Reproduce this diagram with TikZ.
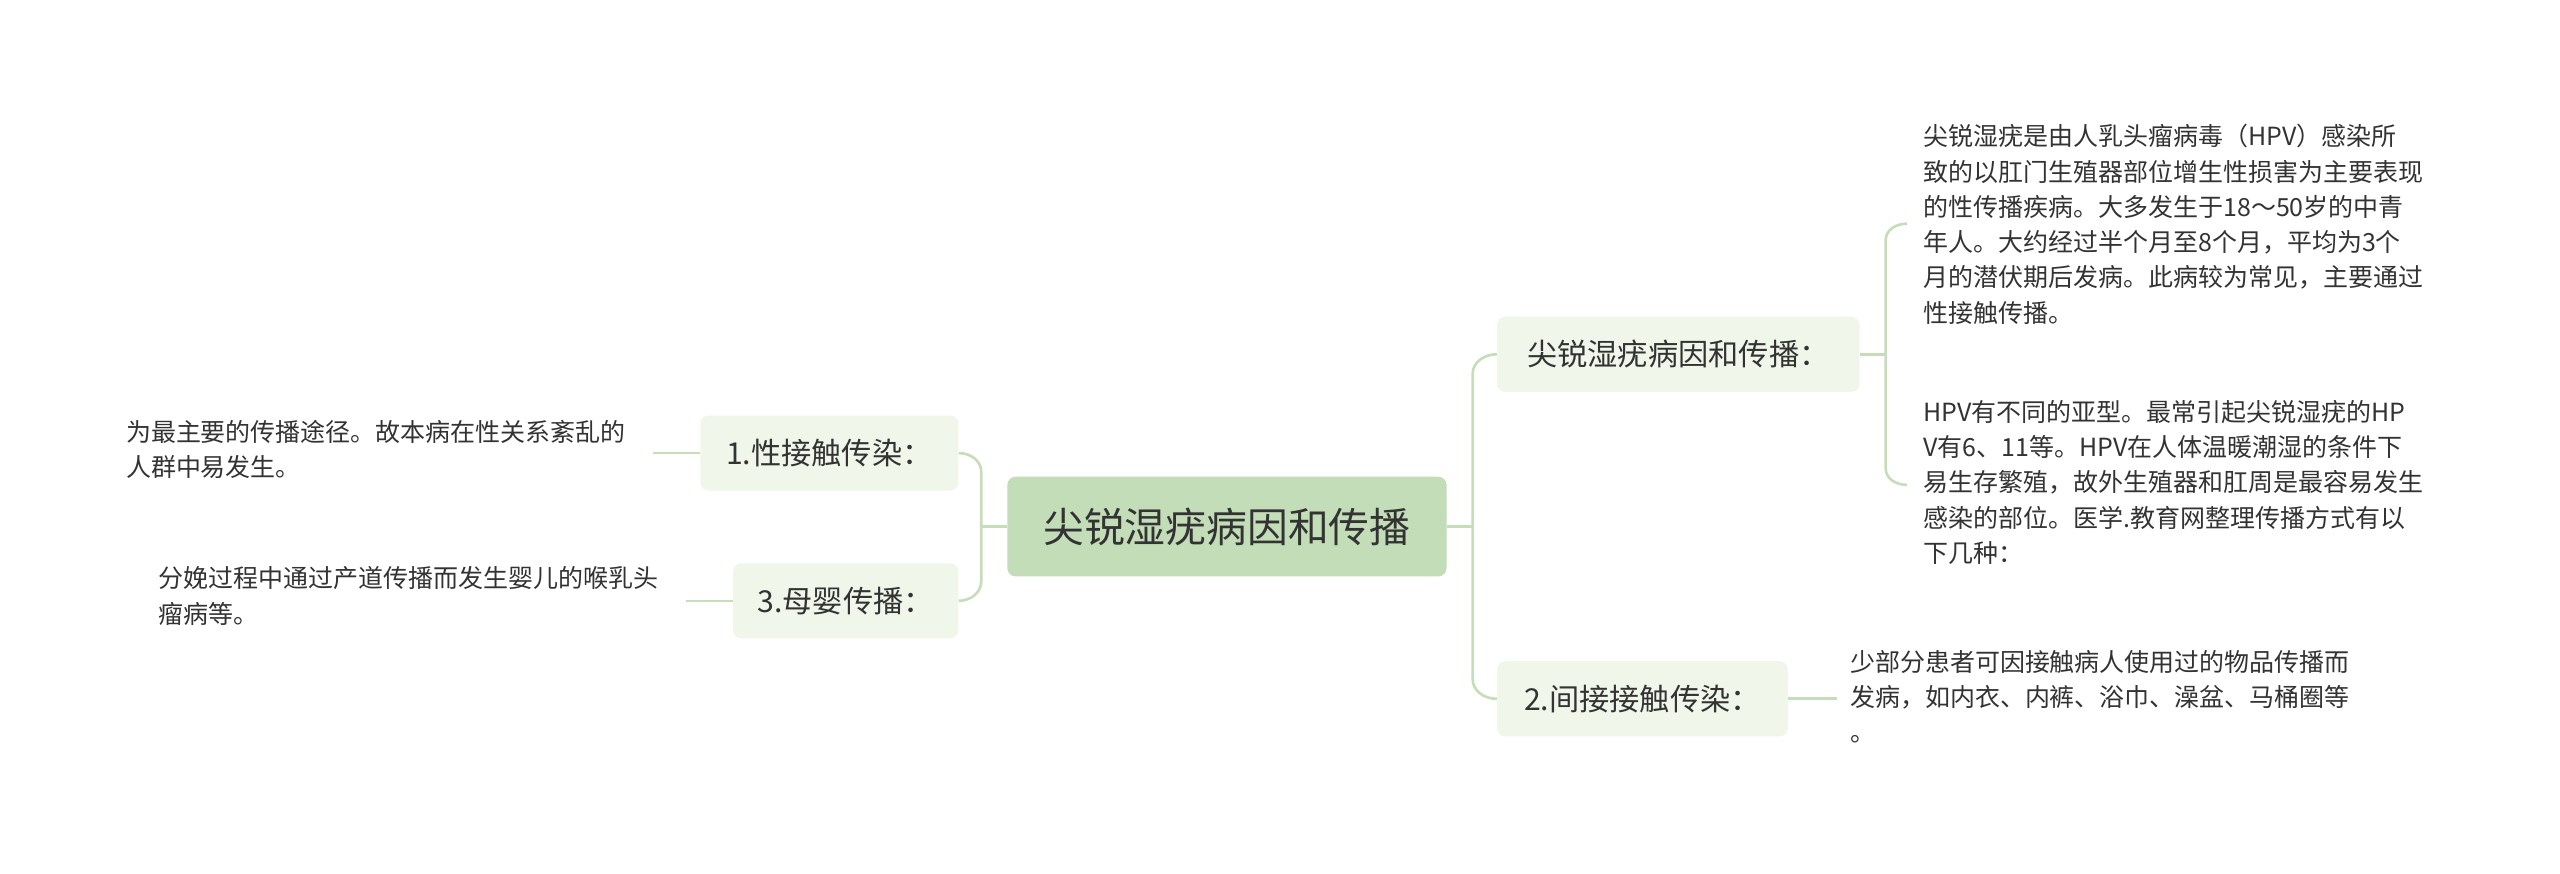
\documentclass[tikz,border=0pt]{standalone}
\usepackage{fontspec}
\setmainfont{Noto Sans CJK SC}
\usetikzlibrary{positioning}
\definecolor{rootfill}{HTML}{C3DDB8}
\definecolor{subfill}{HTML}{F0F6EA}
\definecolor{linkcol}{HTML}{C5DDB9}
\definecolor{txtcol}{HTML}{333333}
\tikzset{
  rootbox/.style={fill=rootfill, rounded corners=5pt, minimum width=269pt, minimum height=61pt, font=\fontsize{25}{29}\selectfont, text=txtcol},
  subbox/.style={fill=subfill, rounded corners=5pt, minimum height=46pt, inner xsep=8pt, font=\fontsize{18.5}{22}\selectfont, text=txtcol},
  leaf/.style={align=left, inner sep=0pt, font=\fontsize{15.3}{21.6}\selectfont, text=txtcol},
  link/.style={draw=linkcol, line width=1.6pt}
}
\begin{document}
\begin{tikzpicture}[x=1pt, y=1pt]
  \useasboundingbox[fill=white] (0,0) rectangle (1568,-535);
  % central topic
  \node[rootbox] (root) at (751.5,-322.5) {尖锐湿疣病因和传播};
  % branches
  \node[subbox, minimum width=222pt] (cause) at (1028,-217) {尖锐湿疣病因和传播：};
  \node[subbox, minimum width=178pt] (indirect) at (1006,-428) {2.间接接触传染：};
  \node[subbox, minimum width=158pt] (sexual) at (508,-277.5) {1.性接触传染：};
  \node[subbox, minimum width=138pt] (mother) at (518,-368) {3.母婴传播：};
  % leaves
  \node[leaf, anchor=north west] (causeA) at (1178,-76) {尖锐湿疣是由人乳头瘤病毒（HPV）感染所\\致的以肛门生殖器部位增生性损害为主要表现\\的性传播疾病。大多发生于18～50岁的中青\\年人。大约经过半个月至8个月，平均为3个\\月的潜伏期后发病。此病较为常见，主要通过\\性接触传播。};
  \node[leaf, anchor=north west] (causeB) at (1178,-245) {HPV有不同的亚型。最常引起尖锐湿疣的HP\\V有6、11等。HPV在人体温暖潮湿的条件下\\易生存繁殖，故外生殖器和肛周是最容易发生\\感染的部位。医学.教育网整理传播方式有以\\下几种：};
  \node[leaf, anchor=north west] (indirectA) at (1133,-398) {少部分患者可因接触病人使用过的物品传播而\\发病，如内衣、内裤、浴巾、澡盆、马桶圈等\\。};
  \node[leaf, anchor=north west] (sexualA) at (77,-257) {为最主要的传播途径。故本病在性关系紊乱的\\人群中易发生。};
  \node[leaf, anchor=north west] (motherA) at (97,-347) {分娩过程中通过产道传播而发生婴儿的喉乳头\\瘤病等。};
  % connectors
  \coordinate (rj) at (902,-322.5);
  \coordinate (lj) at (601,-322.5);
  \draw[link] (root.east) -- (rj);
  \draw[link] (rj) -- (902,-229) to[out=90,in=180] (cause.west);
  \draw[link] (rj) -- (902,-416) to[out=-90,in=180] (indirect.west);
  \draw[link] (root.west) -- (lj);
  \draw[link] (lj) -- (601,-289) to[out=90,in=0] (sexual.east);
  \draw[link] (lj) -- (601,-356) to[out=-90,in=0] (mother.east);
  \coordinate (cj) at (1155,-217);
  \draw[link] (cause.east) -- (cj);
  \draw[link] (cj) -- (1155,-147) to[out=90,in=180] (1168,-137);
  \draw[link] (cj) -- (1155,-287) to[out=-90,in=180] (1168,-297);
  \draw[link] (indirect.east) -- (1125,-428);
  \draw[link] (sexual.west) -- (400,-277.5);
  \draw[link] (mother.west) -- (420,-368);
\end{tikzpicture}
\end{document}
